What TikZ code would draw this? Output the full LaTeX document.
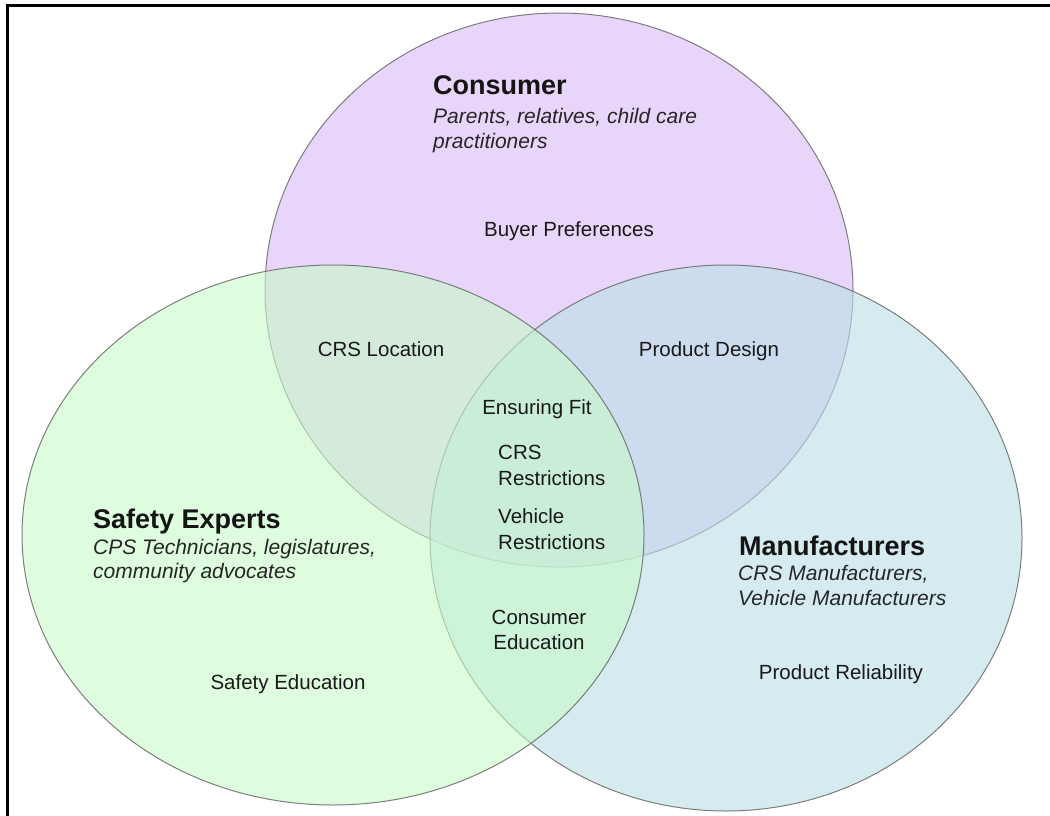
\documentclass[tikz,border=0pt]{standalone}
\usepackage{fontspec}
\setmainfont{Liberation Sans}
\definecolor{cpurple}{RGB}{218,187,247}
\definecolor{cgreen}{RGB}{200,250,200}
\definecolor{cblue}{RGB}{187,223,230}
\definecolor{cedge}{RGB}{105,105,105}
\tikzset{
  setshape/.style={fill opacity=0.6, draw=cedge, draw opacity=0.85, line width=1pt},
  titletext/.style={anchor=base west, inner sep=0pt, font=\fontsize{27}{30}\selectfont\bfseries, text=black!92},
  subtext/.style={anchor=base west, inner sep=0pt, font=\fontsize{21}{24}\selectfont\itshape, text=black!85},
  areatext/.style={anchor=base, inner sep=0pt, font=\fontsize{20.5}{24}\selectfont, text=black!90},
  arealeft/.style={anchor=base west, inner sep=0pt, font=\fontsize{20.5}{24}\selectfont, text=black!90},
  frameline/.style={line width=3pt, black}
}
\begin{document}
\begin{tikzpicture}[x=1pt,y=-1pt]
\useasboundingbox (0,0) rectangle (1050,816);
\fill[white] (0,0) rectangle (1050,816);
% sets
\path[setshape, fill=cpurple] (559,290) ellipse [x radius=294pt, y radius=277pt];
\path[setshape, fill=cblue] (726,538) ellipse [x radius=296pt, y radius=273pt];
\path[setshape, fill=cgreen] (333,535) ellipse [x radius=311pt, y radius=270pt];
% frame
\coordinate (fc) at (7.5,6);
\coordinate (fr) at (1050,6);
\coordinate (fb) at (7.5,816);
\draw[frameline] (fr) -- (fc) -- (fb);
% Consumer
\node[titletext] (cons) at (433,95) {Consumer};
\node[subtext] (cons1) at (433,124) {Parents, relatives, child care};
\node[subtext] (cons2) at (433,148) {practitioners};
\node[areatext] (buyer) at (569,236) {Buyer Preferences};
% Safety
\node[titletext] (safe) at (93,528) {Safety Experts};
\node[subtext] (safe1) at (93,554) {CPS Technicians, legislatures,};
\node[subtext] (safe2) at (93,578) {community advocates};
\node[areatext] (safeedu) at (288,689) {Safety Education};
% Manufacturers
\node[titletext] (manu) at (739,555) {Manufacturers};
\node[subtext] (manu1) at (738,580) {CRS Manufacturers,};
\node[subtext] (manu2) at (738,605) {Vehicle Manufacturers};
\node[areatext] (rel) at (841,679) {Product Reliability};
% overlaps
\node[areatext] (loc) at (381,356) {CRS Location};
\node[areatext] (design) at (709,356) {Product Design};
\node[areatext] (fit) at (537,414) {Ensuring Fit};
\node[arealeft] (crs1) at (498,459) {CRS};
\node[arealeft] (crs2) at (498,485) {Restrictions};
\node[arealeft] (veh1) at (498,523) {Vehicle};
\node[arealeft] (veh2) at (498,549) {Restrictions};
\node[areatext] (edu1) at (539,624) {Consumer};
\node[areatext] (edu2) at (539,649) {Education};
\end{tikzpicture}
\end{document}
